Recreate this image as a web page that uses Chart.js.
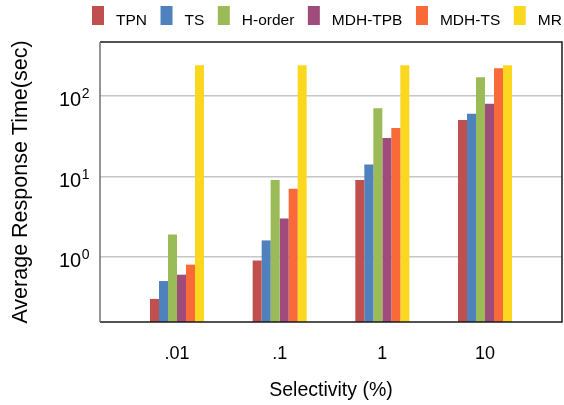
<!DOCTYPE html>
<html><head><meta charset="utf-8">
<script src="https://cdn.jsdelivr.net/npm/chart.js@4/dist/chart.umd.min.js"></script>
<style>html,body{margin:0;padding:0;background:#fff;overflow:hidden}#wrap{width:564px;height:405px}</style>
</head><body><div id="wrap"><canvas id="c" width="564" height="405"></canvas></div>
<script>
const categories = ['.01', '.1', '1', '10'];
const seriesNames = ['TPN', 'TS', 'H-order', 'MDH-TPB', 'MDH-TS', 'MR'];
const tpn    = [0.30, 0.9, 9, 50];
const ts     = [0.50, 1.6, 14, 60];
const hOrder = [1.9, 9, 70, 170];
const mdhTpb = [0.60, 3.0, 30, 80];
const mdhTs  = [0.80, 7, 40, 220];
const mr     = [240, 240, 240, 240];
const yTickValues = [1, 10, 100];
const yTickExponents = ['0', '1', '2'];
const seriesValues = [tpn, ts, hOrder, mdhTpb, mdhTs, mr];
const colors = ['#C0504D', '#4F81BD', '#9BBB59', '#9F4C7C', '#F96A39', '#FCD71F'];
const FONT = '"Liberation Sans", Arial, Helvetica, sans-serif';

const datasets = seriesNames.map((name, k) => ({
  label: name,
  data: seriesValues[k].map((v, i) => ({x: i, y: v})),
  backgroundColor: colors[k],
  borderWidth: 0
}));

const decorPlugin = {
  id: 'decor',
  afterDraw(chart) {
    const ctx = chart.ctx;
    const a = chart.chartArea;
    ctx.save();
    // frame
    ctx.lineWidth = 1.5;
    ctx.strokeStyle = '#1a1a1a';
    ctx.beginPath();
    ctx.moveTo(a.left, a.top); ctx.lineTo(a.right, a.top);
    ctx.lineTo(a.right, a.bottom); ctx.lineTo(a.left, a.bottom);
    ctx.stroke();
    ctx.strokeStyle = '#707070';
    ctx.beginPath();
    ctx.moveTo(a.left, a.top); ctx.lineTo(a.left, a.bottom);
    ctx.stroke();
    // y tick labels as 10^n
    const ys = chart.scales.y;
    ctx.fillStyle = '#000';
    ctx.textBaseline = 'alphabetic';
    ctx.textAlign = 'left';
    ys.ticks.forEach((t, i) => {
      const p = ys.getPixelForValue(t.value);
      const exp = yTickExponents[i];
      ctx.font = '14px ' + FONT;
      const ew = ctx.measureText(exp).width;
      ctx.font = '20px ' + FONT;
      const bw = ctx.measureText('10').width;
      const right = 89.5;
      const ex = right - ew;
      const bx = ex - bw - 0.5;
      ctx.fillText('10', bx, p + 10.5);
      ctx.font = '14px ' + FONT;
      ctx.fillText(exp, ex, p + 2.6);
    });
    // legend
    ctx.font = '15.5px ' + FONT;
    let x = 92;
    chart.data.datasets.forEach(ds => {
      ctx.fillStyle = ds.backgroundColor;
      ctx.fillRect(x, 6, 12, 19);
      ctx.fillStyle = '#000';
      ctx.fillText(ds.label, x + 24, 24.5);
      x += 24 + ctx.measureText(ds.label).width + 13.5;
    });
    ctx.restore();
  }
};

new Chart(document.getElementById('c'), {
  type: 'bar',
  data: { datasets },
  plugins: [decorPlugin],
  options: {
    responsive: false,
    animation: false,
    devicePixelRatio: 1,
    layout: { padding: { top: 42, right: 2, left: 0, bottom: 0 } },
    plugins: { legend: { display: false }, tooltip: { enabled: false } },
    datasets: { bar: { categoryPercentage: 0.526, barPercentage: 1 } },
    scales: {
      x: {
        type: 'linear', min: -0.75, max: 3.75, offset: false,
        afterBuildTicks: s => { s.ticks = categories.map((c, i) => ({ value: i })); },
        afterFit: s => { s.height = 83; },
        grid: { display: false, drawTicks: false },
        border: { display: false },
        ticks: { padding: 21, color: '#000', font: { family: FONT, size: 18 },
                 autoSkip: false, maxRotation: 0, callback: v => categories[v] },
        title: { display: true, text: 'Selectivity (%)', color: '#000',
                 font: { family: FONT, size: 19.5 }, padding: { top: 0, bottom: 3 } }
      },
      y: {
        type: 'logarithmic', min: 0.155, max: 467,
        afterBuildTicks: s => { s.ticks = yTickValues.map(v => ({ value: v })); },
        afterFit: s => { s.width = 100; },
        grid: { color: '#c6c6c6', lineWidth: 1.5, drawTicks: false },
        border: { display: false },
        ticks: { display: false },
        title: { display: true, text: 'Average Response Time(sec)', color: '#000',
                 font: { family: FONT, size: 21.5 }, padding: { top: 8, bottom: 0 } }
      }
    }
  }
});
</script>
</body></html>
